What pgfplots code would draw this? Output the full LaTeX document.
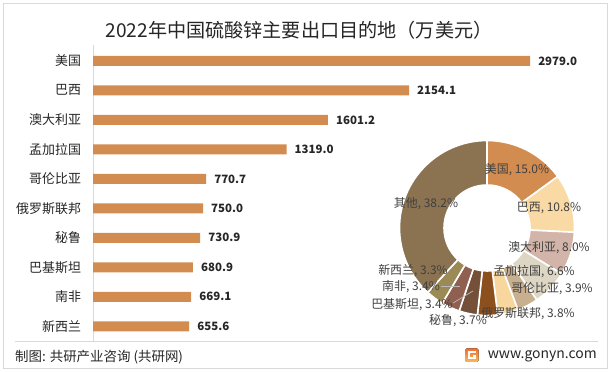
\documentclass[border=0pt]{standalone}
\usepackage{fontspec}
\setmainfont{Noto Sans CJK SC}
\usepackage{pgfplots}
\usepackage{pgfplotstable}
\pgfplotsset{compat=1.18}

\definecolor{barc}{RGB}{211,140,80}
\definecolor{gridc}{RGB}{217,217,217}
\definecolor{txt}{RGB}{38,38,38}
\definecolor{lbl}{RGB}{64,64,64}
\definecolor{dca}{RGB}{211,140,80}
\definecolor{dcb}{RGB}{249,218,165}
\definecolor{dcc}{RGB}{211,180,168}
\definecolor{dcd}{RGB}{222,214,196}
\definecolor{dce}{RGB}{200,176,143}
\definecolor{dcf}{RGB}{248,215,158}
\definecolor{dcg}{RGB}{140,80,30}
\definecolor{dch}{RGB}{115,80,55}
\definecolor{dci}{RGB}{143,95,80}
\definecolor{dcj}{RGB}{155,138,85}
\definecolor{dck}{RGB}{139,115,82}

\pgfplotstableread{
name value
美国 2979.0
巴西 2154.1
澳大利亚 1601.2
孟加拉国 1319.0
哥伦比亚 770.7
俄罗斯联邦 750.0
秘鲁 730.9
巴基斯坦 680.9
南非 669.1
新西兰 655.6
}\bardata

\pgfplotstableread{
name pct col
美国 15.0 dca
巴西 10.8 dcb
澳大利亚 8.0 dcc
孟加拉国 6.6 dcd
哥伦比亚 3.9 dce
俄罗斯联邦 3.8 dcf
秘鲁 3.7 dcg
巴基斯坦 3.4 dch
南非 3.4 dci
新西兰 3.3 dcj
其他 38.2 dck
}\donutdata

\newcommand{\fs}[1]{\fontsize{#1}{#1}\selectfont}

\begin{document}
\begin{tikzpicture}
\path[use as bounding box] (0,0) rectangle (613bp,372bp);
\fill[white] (0,0) rectangle (613bp,372bp);
\draw[gridc, line width=0.8bp] (3.5bp,3.5bp) rectangle (607.5bp,369bp);

% title
\node[text=txt, font=\fs{19.2}, inner sep=0] at (299bp,342bp) {2022年中国硫酸锌主要出口目的地（万美元）};

% bar chart
\begin{axis}[
  at={(93bp,31bp)}, anchor=south west,
  scale only axis, width=513.5bp, height=296bp,
  xmin=0, xmax=3500, ymin=-0.54, ymax=9.5,
  y dir=reverse,
  axis x line=none, axis y line=left,
  y axis line style={-, draw=gridc, line width=0.8bp},
  ytick={0,...,9},
  yticklabels={美国,巴西,澳大利亚,孟加拉国,哥伦比亚,俄罗斯联邦,秘鲁,巴基斯坦,南非,新西兰},
  major tick length=0pt,
  yticklabel style={font=\fs{13}, text=txt, xshift=-8.5bp},
  clip=false,
]
\addplot[xbar, bar width=10bp, fill=barc, draw=none,
  point meta=x,
  nodes near coords={\pgfmathprintnumber[fixed,fixed zerofill,precision=1,1000 sep={},assume math mode=true]{\pgfplotspointmeta}},
  nodes near coords style={font=\bfseries\fs{11.5}, text=txt, anchor=west, inner sep=0pt, xshift=8bp},
] table[x=value, y expr=\coordindex] {\bardata};
\end{axis}

% donut
\begin{axis}[
  at={(487bp,144bp)}, anchor=center,
  scale only axis, width=175bp, height=175bp,
  xmin=-1, xmax=1, ymin=-1, ymax=1,
  hide axis, clip=false,
]
\addplot[draw=none, forget plot] coordinates {(0,0)};
\pgfplotsextra{
  \pgfplotstablegetrowsof{\donutdata}
  \pgfmathtruncatemacro{\lastrow}{\pgfplotsretval-1}
  \gdef\dtotal{0}
  \foreach \i in {0,...,\lastrow}{
    \pgfplotstablegetelem{\i}{pct}\of{\donutdata}\let\slicepct\pgfplotsretval
    \pgfmathsetmacro{\tmpsum}{\dtotal+\slicepct}
    \xdef\dtotal{\tmpsum}
  }
  \gdef\startang{90}
  \begin{scope}[shift={(axis cs:0,0)}]
  \foreach \i in {0,...,\lastrow}{
    \pgfplotstablegetelem{\i}{pct}\of{\donutdata}\let\slicepct\pgfplotsretval
    \pgfplotstablegetelem{\i}{col}\of{\donutdata}\let\slicecol\pgfplotsretval
    \pgfmathsetmacro{\endang}{\startang-\slicepct*360/\dtotal}
    \fill[fill=\slicecol, draw=white, line width=1.6bp]
      (\startang:87.5bp) arc[start angle=\startang, end angle=\endang, radius=87.5bp]
      -- (\endang:43bp) arc[start angle=\endang, end angle=\startang, radius=43bp] -- cycle;
    \xdef\startang{\endang}
  }
  \end{scope}
}
\end{axis}

% leader lines
\draw[gray!55, line width=0.7bp] (441bp,86bp) -- (460bp,86bp);
\draw[gray!55, line width=0.7bp] (453bp,69bp) -- (473bp,81bp);

% donut labels
\begin{scope}[every node/.style={text=lbl, font=\fs{12}, inner sep=0}]
\node at (517bp,202bp) {美国, 15.0\%};
\node at (549bp,164bp) {巴西, 10.8\%};
\node at (549bp,124bp) {澳大利亚, 8.0\%};
\node at (534bp,100bp) {孟加拉国, 6.6\%};
\node at (552bp,83bp) {哥伦比亚, 3.9\%};
\node at (528bp,58bp) {俄罗斯联邦, 3.8\%};
\node at (458bp,51bp) {秘鲁, 3.7\%};
\node at (412bp,67bp) {巴基斯坦, 3.4\%};
\node at (411bp,85bp) {南非, 3.4\%};
\node at (413bp,101bp) {新西兰, 3.3\%};
\node at (426bp,168bp) {其他, 38.2\%};
\end{scope}

% footer
\draw[gridc, line width=0.8bp] (15bp,31bp) -- (598bp,31bp);
\node[anchor=west, text=txt, font=\fs{13.5}, inner sep=0] at (15bp,15bp) {制图: 共研产业咨询 (共研网)};
\node[anchor=east, text=txt, font=\fs{14}, inner sep=0] at (597bp,15.5bp) {www.gonyn.com};
\begin{scope}
\fill[rounded corners=1.5bp, top color={rgb,255:red,240;green,110;blue,50}, bottom color={rgb,255:red,250;green,185;blue,90}] (465bp,10bp) rectangle (478.5bp,23.5bp);
\fill[white] (467.5bp,19bp) rectangle (476bp,21bp);
\fill[white] (467.5bp,12.5bp) rectangle (469.5bp,19bp);
\fill[white] (467.5bp,12.5bp) rectangle (476bp,14.5bp);
\fill[white] (472.5bp,14.5bp) rectangle (476bp,16.5bp);
\end{scope}
\end{tikzpicture}
\end{document}
